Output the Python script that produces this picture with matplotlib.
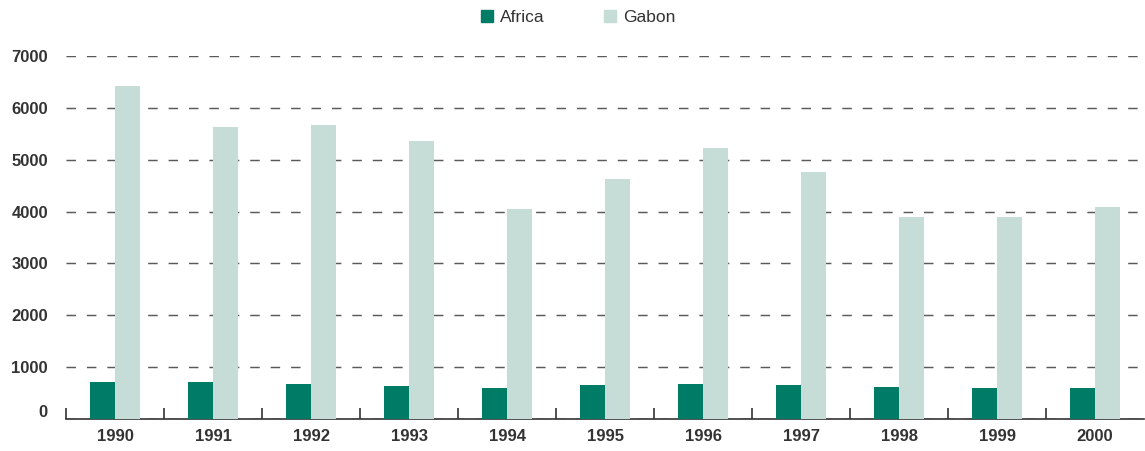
import matplotlib
matplotlib.use("Agg")
import matplotlib.pyplot as plt
import numpy as np
from matplotlib.patches import Patch
import matplotlib.transforms as mtransforms

years = ["1990", "1991", "1992", "1993", "1994", "1995", "1996", "1997", "1998", "1999", "2000"]
africa = [720, 720, 680, 630, 600, 650, 670, 650, 620, 600, 600]
gabon = [6420, 5640, 5660, 5370, 4040, 4630, 5230, 4770, 3900, 3900, 4090]
yticks = [0, 1000, 2000, 3000, 4000, 5000, 6000, 7000]

c_africa = "#007B65"
c_gabon = "#C5DDD6"
text_c = "#333333"

plt.rcParams['font.family'] = ['Liberation Sans', 'DejaVu Sans']

fig = plt.figure(figsize=(11.45, 4.51), dpi=100)
ax = fig.add_axes([66/1145, 1-419/451, 1078/1145, (419-56)/451])

x = np.arange(len(years))
w = 0.255
ax.bar(x - w/2, africa, w, color=c_africa, zorder=3, label="Africa")
ax.bar(x + w/2, gabon, w, color=c_gabon, zorder=3, label="Gabon")

ax.set_xlim(-0.5, len(years) - 0.5)
ax.set_ylim(0, 7000)
ax.set_yticks(yticks)
ax.set_yticklabels([("" if v == 0 else str(v)) for v in yticks])
ax.yaxis.grid(True, linestyle=(0, (6.5, 7.5)), color="#5a5a5a", linewidth=1.05, zorder=1)
ax.set_axisbelow(True)

for s in ["top", "right", "left"]:
    ax.spines[s].set_visible(False)
ax.spines["bottom"].set_color(text_c)
ax.spines["bottom"].set_linewidth(1.2)

ax.tick_params(axis="y", length=0, pad=13, labelsize=12, labelcolor=text_c)
for lbl in ax.get_yticklabels():
    lbl.set_fontweight("bold")

# zero label sits slightly above the baseline
trans = mtransforms.blended_transform_factory(ax.transAxes, ax.transData)
ax.annotate(str(yticks[0]), xy=(0, yticks[0]), xycoords=trans,
            xytext=(-13, 5), textcoords="offset points",
            ha="right", va="center", fontsize=12, fontweight="bold", color=text_c)

ax.set_xticks(x)
ax.set_xticklabels(years, fontweight="bold", fontsize=12, color=text_c)
ax.tick_params(axis="x", which="major", length=0, pad=7)
ax.set_xticks(np.arange(-0.5, len(years) - 0.9, 1.0), minor=True)
ax.tick_params(axis="x", which="minor", direction="in", length=8, width=1.2, color=text_c)

handles = [Patch(color=c_africa, label="Africa"), Patch(color=c_gabon, label="Gabon")]
fig.legend(handles=handles, loc="upper center", bbox_to_anchor=(0.5048, 1.012), ncol=2,
           frameon=False, fontsize=12.5, handlelength=0.7, handleheight=0.7,
           handletextpad=0.4, columnspacing=3.4, labelcolor=text_c)

fig.savefig("out.png", dpi=100)
